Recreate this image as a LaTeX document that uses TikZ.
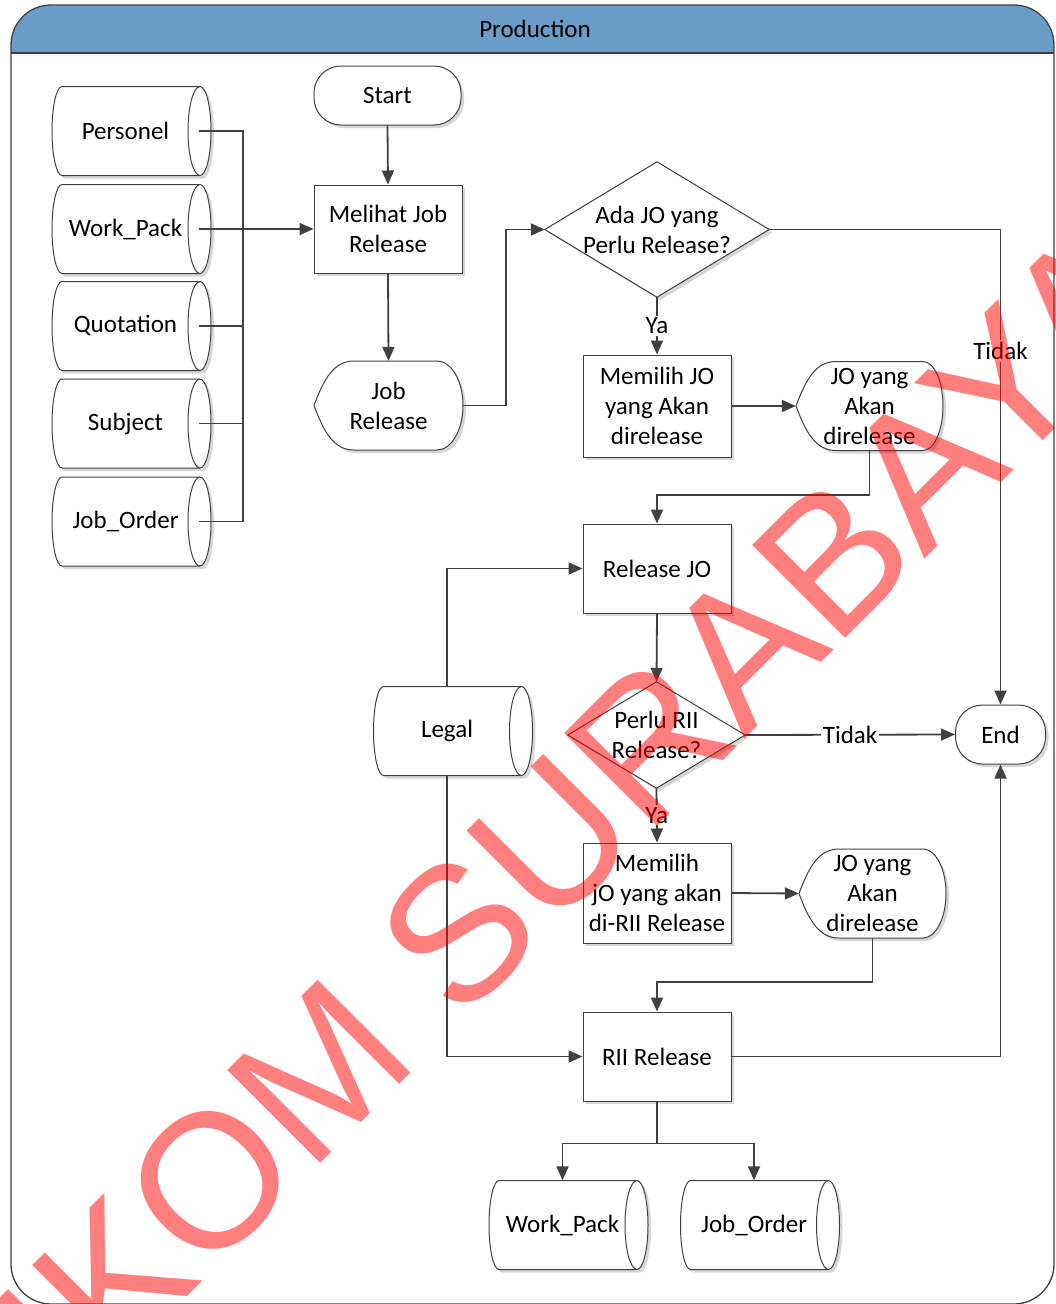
\documentclass[tikz,border=0pt]{standalone}
\usepackage{fontspec}
\setmainfont{Carlito}
\newfontfamily\wmfont{Liberation Sans}
\usetikzlibrary{arrows.meta,shadows,calc}
\pgfdeclarelayer{background}
\pgfdeclarelayer{foreground}
\pgfsetlayers{background,main,foreground}

\definecolor{lanehead}{RGB}{106,156,200}
\definecolor{ink}{RGB}{64,64,64}

\tikzset{
  every node/.style={font=\fontsize{25}{30}\selectfont, text=black},
  softshadow/.style={drop shadow={shadow xshift=3pt,shadow yshift=-3pt,fill=black,opacity=0.16}},
  figfill/.style={draw=ink,line width=1pt,fill=white,softshadow},
  figline/.style={draw=ink,line width=1pt},
  procbox/.style={rectangle,draw=ink,line width=1pt,fill=white,softshadow,
                  minimum width=148pt,align=center,inner sep=0pt},
  termbox/.style={rectangle,rounded corners=27pt,draw=ink,line width=1pt,
                  fill=white,softshadow,inner sep=0pt},
  plain/.style={rectangle,inner sep=0pt,align=center},
  storenode/.style={plain,minimum width=147pt,minimum height=89pt},
  conn/.style={draw=ink,line width=1.8pt},
  flow/.style={conn,-{Triangle[length=14pt,width=12pt]}},
  lbl/.style={fill=white,inner sep=2pt},
  wm/.style={font={\wmfont\fontsize{191}{200}\selectfont},text=red,text opacity=0.5,inner sep=0pt},
}

% stored data: convex left side, cylinder-like right end
\newcommand{\storefig}[1]{%
  \begin{pgfonlayer}{background}
  \begin{scope}[shift={(#1.center)}]
    \path[figfill] (-63.5,-44.5) -- (74.5,-44.5)
      arc[start angle=-90,end angle=90,x radius=11,y radius=44.5]
      -- (-63.5,44.5)
      arc[start angle=90,end angle=270,x radius=10,y radius=44.5] -- cycle;
    \draw[figline] (74.5,-44.5) arc[start angle=270,end angle=90,x radius=12,y radius=44.5];
  \end{scope}
  \end{pgfonlayer}}

% display: pointed left side, rounded right side
\newcommand{\dispfig}[3]{%
  \begin{pgfonlayer}{background}
  \begin{scope}[shift={(#1.center)}]
    \path[figfill] (-#2,0) .. controls ({-#2+10},-27) and ({-#2+20},-44.5) .. ({-#2+40},-44.5)
      -- ({#2-#3},-44.5)
      arc[start angle=-90,end angle=90,x radius=#3,y radius=44.5]
      -- ({-#2+40},44.5) .. controls ({-#2+20},44.5) and ({-#2+10},27) .. cycle;
  \end{scope}
  \end{pgfonlayer}}

% decision diamond on the anchors of a rectangle node
\newcommand{\decfig}[1]{%
  \begin{pgfonlayer}{background}
    \path[figfill] (#1.west) -- (#1.north) -- (#1.east) -- (#1.south) -- cycle;
  \end{pgfonlayer}}

\begin{document}
\begin{tikzpicture}[x=1pt,y=-1pt]
\useasboundingbox (0,0) rectangle (1055,1304);

% swimlane
\begin{pgfonlayer}{background}
  \begin{scope}
    \clip[rounded corners=40pt] (11,5) rectangle (1054,1304);
    \fill[white] (11,5) rectangle (1054,1304);
    \fill[lanehead] (11,5) rectangle (1054,53);
  \end{scope}
  \draw[ink,line width=1.3pt] (11,53) -- (1054,53);
  \draw[ink,line width=1.3pt,rounded corners=40pt] (11,5) rectangle (1054,1304);
\end{pgfonlayer}
\node (lanetitle) at (535,29) {Production};

% data stores on the left
\node[storenode] (pers) at (125.5,131) {Personel};
\node[storenode] (wp)   at (125.5,229) {Work\_Pack};
\node[storenode] (quot) at (125.5,326) {Quotation};
\node[storenode] (subj) at (125.5,423.5) {Subject};
\node[storenode] (jo1)  at (125.5,521.5) {Job\_Order};
\storefig{pers}\storefig{wp}\storefig{quot}\storefig{subj}\storefig{jo1}

% main flow
\node[termbox,minimum width=147pt,minimum height=59pt] (start) at (387.5,95.5) {Start};
\node[procbox,minimum height=88pt] (melihat) at (388,229) {Melihat Job\\Release};
\node[plain,minimum width=149pt,minimum height=89pt] (jr) at (388.5,405.5) {Job\\Release};
\dispfig{jr}{74.5}{26}
\node[plain,minimum width=224pt,minimum height=135pt] (d1) at (657,229.5) {Ada JO yang\\Perlu Release?};
\decfig{d1}
\node[procbox,minimum height=102pt] (mem1) at (657,406) {Memilih JO\\yang Akan\\direlease};
\node[plain,minimum width=147pt,minimum height=89pt] (disp1) at (869.5,406) {JO yang\\Akan\\direlease};
\dispfig{disp1}{73.5}{20}
\node[procbox,minimum height=89pt] (rel) at (657,568.5) {Release JO};
\node[plain,minimum width=177pt,minimum height=106pt] (d2) at (656.5,735) {Perlu RII\\Release?};
\decfig{d2}
\node[termbox,minimum width=90pt,minimum height=59pt] (end) at (1000.5,734.5) {End};
\node[storenode] (legal) at (447,731) {Legal};
\storefig{legal}
\node[procbox,minimum height=100pt] (mem2) at (657,893) {Memilih\\jO yang akan\\di-RII Release};
\node[plain,minimum width=147pt,minimum height=89pt] (disp2) at (872.5,893.5) {JO yang\\Akan\\direlease};
\dispfig{disp2}{73.5}{23}
\node[procbox,minimum height=89pt] (rii) at (657,1056.5) {RII Release};
\node[storenode] (wp2) at (562.5,1225) {Work\_Pack};
\node[storenode] (jo2) at (754,1225) {Job\_Order};
\storefig{wp2}\storefig{jo2}

% connectors
\coordinate (bus) at (243,131);
\coordinate (jrbend) at (506,405.5);
\draw[conn] (pers.east) -| (bus |- jo1.east) -- (jo1.east);
\draw[conn] (quot.east) -- (bus |- quot.east);
\draw[conn] (subj.east) -- (bus |- subj.east);
\draw[flow] (wp.east) -- (melihat.west);
\draw[flow] (start.south) -- (melihat.north);
\draw[flow] (melihat.south) -- (jr.north);
\draw[flow] (jr.east) -- (jrbend |- jr.east) |- (d1.west);
\draw[flow] (d1.east) -| node[lbl,pos=0.628] {Tidak} (end.north);
\draw[flow] (d1.south) -- node[lbl] {Ya} (mem1.north);
\draw[flow] (mem1.east) -- (disp1.west);
\draw[flow] (disp1.south) -- ++(0,44) -| (rel.north);
\draw[flow] (rel.south) -- (d2.north);
\draw[flow] (d2.east) -- node[lbl] {Tidak} (end.west);
\draw[flow] (d2.south) -- node[lbl] {Ya} (mem2.north);
\draw[flow] (mem2.east) -- (disp2.west);
\draw[flow] (disp2.south) -- ++(0,44) -| (rii.north);
\draw[flow] (legal.north) |- (rel.west);
\draw[flow] (legal.south) |- (rii.west);
\draw[flow] (rii.east) -| (end.south);
\draw[flow] (rii.south) -- ++(0,42) -| (wp2.north);
\draw[flow] (rii.south) -- ++(0,42) -| (jo2.north);

% watermark
\begin{pgfonlayer}{foreground}
  \node[wm,rotate=45] (stamp) at (493,898) {STIKOM SURABAYA};
\end{pgfonlayer}
\end{tikzpicture}
\end{document}
